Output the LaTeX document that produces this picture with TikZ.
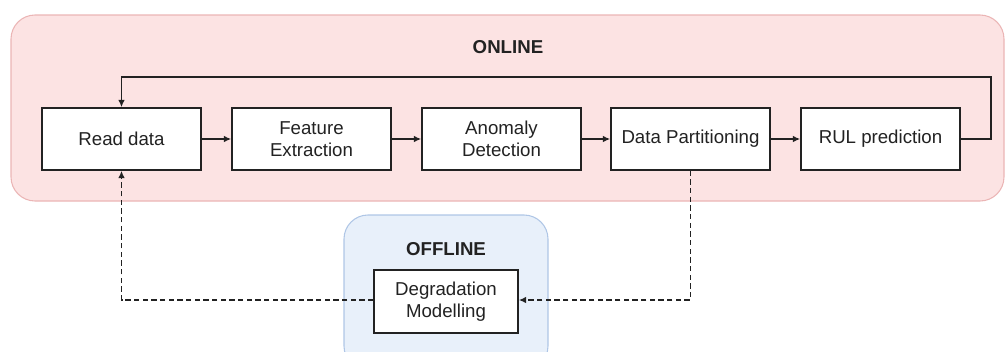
\documentclass[tikz,border=0pt]{standalone}
\usepackage{fontspec}
\setmainfont{Liberation Sans}
\usetikzlibrary{arrows.meta}
\definecolor{onfill}{HTML}{FCE3E3}
\definecolor{ondraw}{HTML}{EBB5B5}
\definecolor{offfill}{HTML}{E8F0FA}
\definecolor{offdraw}{HTML}{AFC6E6}
\definecolor{ink}{HTML}{222222}
\tikzset{
  stepbox/.style={draw=ink, line width=1.2pt, fill=white, minimum width=119.25pt, minimum height=46.5pt, align=center, inner sep=0pt, font=\fontsize{14}{16.5}\selectfont, text=ink},
  flow/.style={draw=ink, line width=1.2pt, -{Latex[length=5.5pt,width=5pt]}},
  dflow/.style={draw=ink, line width=1.2pt, dash pattern=on 4pt off 2.5pt, -{Latex[length=5.5pt,width=5pt]}},
  title/.style={font=\bfseries\fontsize{14}{16}\selectfont, text=ink},
}
\begin{document}
\begin{tikzpicture}[x=0.75pt,y=-0.75pt]
\useasboundingbox (0,0) rectangle (1008,351);
\clip (0,0) rectangle (1008,351);
% containers
\draw[fill=onfill, draw=ondraw, line width=0.8pt, rounded corners=18pt] (11,15) rectangle (1004,201);
\draw[fill=offfill, draw=offdraw, line width=0.8pt, rounded corners=18pt] (344,215) rectangle (548,370);
\node[title] (online) at (508,47) {ONLINE};
\node[title] (offline) at (446,249) {OFFLINE};
% boxes
\node[stepbox] (read) at (121.5,139) {Read data};
\node[stepbox] (feat) at (311.5,139) {Feature\\Extraction};
\node[stepbox] (anom) at (501.5,139) {Anomaly\\Detection};
\node[stepbox] (part) at (690.5,139) {Data Partitioning};
\node[stepbox] (rul) at (880.5,139) {RUL prediction};
\node[stepbox, minimum width=108pt, minimum height=47pt] (deg) at (446,301.5) {Degradation\\Modelling};
% arrows
\draw[flow] (read) -- (feat);
\draw[flow] (feat) -- (anom);
\draw[flow] (anom) -- (part);
\draw[flow] (part) -- (rul);
\coordinate (fb1) at (991,139);
\coordinate (fb2) at (991,77);
\coordinate (fb3) at (121.5,77);
\draw[flow] (rul.east) -- (fb1) -- (fb2) -- (fb3) -- (read.north);
\coordinate (dl) at (121.5,300);
\draw[dflow] (deg.west |- dl) -- (dl) -- (read.south);
\coordinate (dr) at (690.5,300);
\draw[dflow] (part.south) -- (dr) -- (deg.east |- dr);
\end{tikzpicture}
\end{document}
